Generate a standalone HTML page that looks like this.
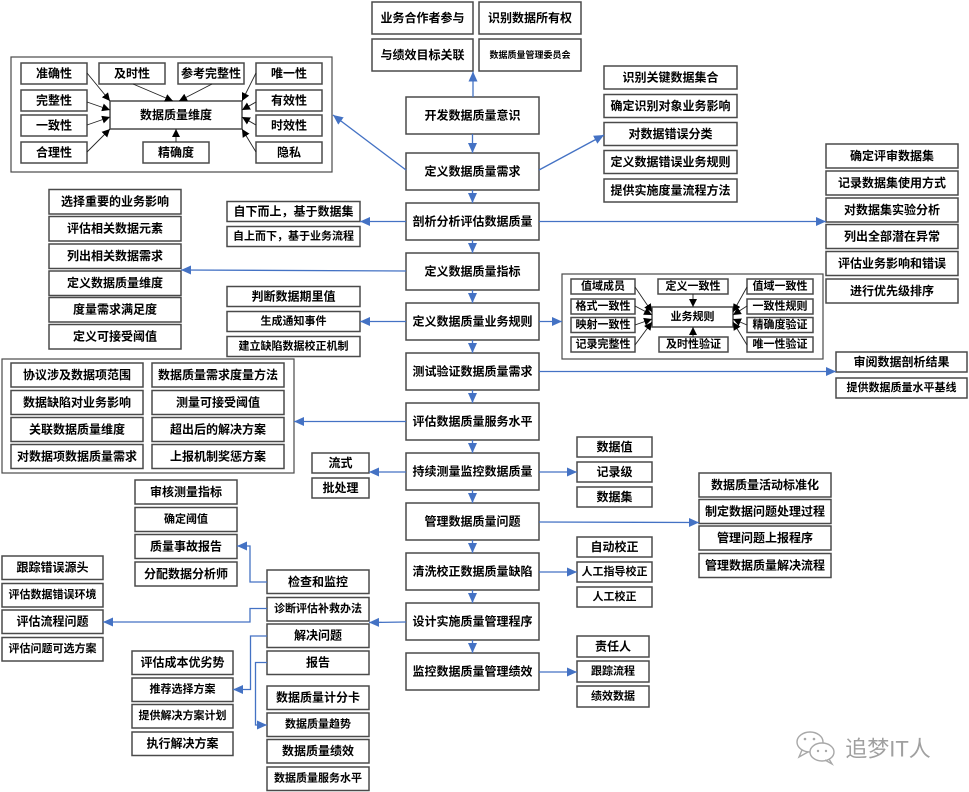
<!DOCTYPE html>
<html><head><meta charset="utf-8"><style>
html,body{margin:0;padding:0;background:#fff;}
svg{display:block;}
.b{fill:#fff;stroke:#4a4a4a;stroke-width:1.5;}
.c{fill:none;stroke:#4a4a4a;stroke-width:1.2;}
text{font-family:"Liberation Sans","Noto Sans CJK SC",sans-serif;font-weight:bold;fill:#000;text-anchor:middle;dominant-baseline:central;font-size:12px;}
.s11{font-size:11px;}
.s9{font-size:9px;}
.bl{fill:none;stroke:#4472C4;stroke-width:1.3;}
.k{fill:none;stroke:#222;stroke-width:0.9;}
</style></head><body>
<svg width="969" height="792" viewBox="0 0 969 792" xmlns="http://www.w3.org/2000/svg">
<defs>
<marker id="a" markerUnits="userSpaceOnUse" markerWidth="10" markerHeight="10" refX="10" refY="5" orient="auto"><path d="M0,0.5 L10,5 L0,9.5 z" fill="#4472C4"/></marker>
<marker id="k" markerUnits="userSpaceOnUse" markerWidth="8" markerHeight="8" refX="8" refY="4" orient="auto"><path d="M0,0 L8,4 L0,8 z" fill="#000"/></marker>
</defs>

<!-- top boxes -->
<rect class="b" x="372" y="2" width="101" height="32"/><text x="422.5" y="18">业务合作者参与</text>
<rect class="b" x="479" y="2" width="102" height="32"/><text x="530" y="18">识别数据所有权</text>
<rect class="b" x="372" y="39" width="101" height="32"/><text x="422.5" y="55">与绩效目标关联</text>
<rect class="b" x="479" y="39" width="102" height="32"/><text class="s9" x="530" y="55">数据质量管理委员会</text>

<!-- dimension container -->
<rect class="c" x="11" y="57" width="321" height="115"/>
<rect class="b" x="21" y="63" width="66" height="21"/><text x="54" y="73.5">准确性</text>
<rect class="b" x="21" y="90" width="66" height="21"/><text x="54" y="100.5">完整性</text>
<rect class="b" x="21" y="115" width="66" height="21"/><text x="54" y="125.5">一致性</text>
<rect class="b" x="21" y="142" width="66" height="21"/><text x="54" y="152.5">合理性</text>
<rect class="b" x="99" y="63" width="66" height="21"/><text x="132" y="73.5">及时性</text>
<rect class="b" x="178" y="63" width="66" height="21"/><text x="211" y="73.5">参考完整性</text>
<rect class="b" x="256" y="63" width="66" height="21"/><text x="289" y="73.5">唯一性</text>
<rect class="b" x="256" y="90" width="66" height="21"/><text x="289" y="100.5">有效性</text>
<rect class="b" x="256" y="115" width="66" height="21"/><text x="289" y="125.5">时效性</text>
<rect class="b" x="256" y="142" width="66" height="21"/><text x="289" y="152.5">隐私</text>
<rect class="b" x="110" y="101" width="132" height="28"/><text x="176" y="115">数据质量维度</text>
<rect class="b" x="143" y="142" width="66" height="21"/><text x="176" y="152.5">精确度</text>
<g marker-end="url(#k)">
<line class="k" x1="87" y1="73" x2="110" y2="101"/>
<line class="k" x1="87" y1="102" x2="110" y2="110"/>
<line class="k" x1="87" y1="125" x2="110" y2="117"/>
<line class="k" x1="87" y1="152" x2="110" y2="129"/>
<line class="k" x1="133" y1="84" x2="173" y2="101"/>
<line class="k" x1="212" y1="84" x2="179" y2="101"/>
<line class="k" x1="256" y1="73" x2="242" y2="101"/>
<line class="k" x1="256" y1="102" x2="242" y2="110"/>
<line class="k" x1="256" y1="125" x2="242" y2="117"/>
<line class="k" x1="256" y1="152" x2="242" y2="129"/>
<line class="k" x1="176" y1="142" x2="176" y2="129"/>
</g>

<!-- right list 1 -->
<rect class="b" x="604" y="66" width="133" height="23"/><text x="670.5" y="77.5">识别关键数据集合</text>
<rect class="b" x="604" y="94.5" width="133" height="23"/><text x="670.5" y="106">确定识别对象业务影响</text>
<rect class="b" x="604" y="122.5" width="133" height="23"/><text x="670.5" y="134">对数据错误分类</text>
<rect class="b" x="604" y="150.5" width="133" height="23"/><text x="670.5" y="162">定义数据错误业务规则</text>
<rect class="b" x="604" y="179" width="133" height="23"/><text x="670.5" y="190.5">提供实施度量流程方法</text>

<!-- right list 2 -->
<rect class="b" x="826" y="144" width="132" height="24"/><text x="892" y="156">确定评审数据集</text>
<rect class="b" x="826" y="171" width="132" height="24"/><text x="892" y="183">记录数据集使用方式</text>
<rect class="b" x="826" y="198" width="132" height="24"/><text x="892" y="210">对数据集实验分析</text>
<rect class="b" x="826" y="224.5" width="132" height="24"/><text x="892" y="236.5">列出全部潜在异常</text>
<rect class="b" x="826" y="251.5" width="132" height="24"/><text x="892" y="263.5">评估业务影响和错误</text>
<rect class="b" x="826" y="279" width="132" height="24"/><text x="892" y="291">进行优先级排序</text>

<!-- left list -->
<rect class="b" x="49" y="189.5" width="132" height="24.5"/><text x="115" y="201.7">选择重要的业务影响</text>
<rect class="b" x="49" y="216.5" width="132" height="24.5"/><text x="115" y="228.7">评估相关数据元素</text>
<rect class="b" x="49" y="244" width="132" height="24.5"/><text x="115" y="256.2">列出相关数据需求</text>
<rect class="b" x="49" y="271" width="132" height="24.5"/><text x="115" y="283.2">定义数据质量维度</text>
<rect class="b" x="49" y="297.5" width="132" height="24.5"/><text x="115" y="309.7">度量需求满足度</text>
<rect class="b" x="49" y="324.5" width="132" height="24.5"/><text x="115" y="336.7">定义可接受阈值</text>

<!-- mid-left -->
<rect class="b" x="227" y="201.5" width="133" height="20"/><text x="293.5" y="211.5">自下而上，基于数据集</text>
<rect class="b" x="227" y="226.5" width="133" height="20"/><text class="s11" x="293.5" y="236.5">自上而下，基于业务流程</text>
<rect class="b" x="227" y="286.5" width="133" height="20"/><text x="293.5" y="296.5">判断数据期里值</text>
<rect class="b" x="227" y="311.5" width="133" height="20"/><text class="s11" x="293.5" y="321.5">生成通知事件</text>
<rect class="b" x="227" y="336.5" width="133" height="20"/><text class="s11" x="293.5" y="346.5">建立缺陷数据校正机制</text>

<!-- business rules container -->
<rect class="c" x="562" y="274" width="261" height="85"/>
<rect class="b" x="571" y="279" width="64" height="15"/><text class="s11" x="603" y="286.5">值域成员</text>
<rect class="b" x="571" y="299" width="64" height="15"/><text class="s11" x="603" y="306.5">格式一致性</text>
<rect class="b" x="571" y="317.5" width="64" height="15"/><text class="s11" x="603" y="325">映射一致性</text>
<rect class="b" x="571" y="337" width="64" height="15"/><text class="s11" x="603" y="344.5">记录完整性</text>
<rect class="b" x="658" y="279" width="70" height="15"/><text class="s11" x="693" y="286.5">定义一致性</text>
<rect class="b" x="659" y="337" width="69" height="15"/><text class="s11" x="693.5" y="344.5">及时性验证</text>
<rect class="b" x="652" y="307" width="81" height="20"/><text class="s11" x="692.5" y="317">业务规则</text>
<rect class="b" x="747" y="279" width="66" height="15"/><text class="s11" x="780" y="286.5">值域一致性</text>
<rect class="b" x="747" y="299" width="66" height="15"/><text class="s11" x="780" y="306.5">一致性规则</text>
<rect class="b" x="747" y="317.5" width="66" height="15"/><text class="s11" x="780" y="325">精确度验证</text>
<rect class="b" x="747" y="337" width="66" height="15"/><text class="s11" x="780" y="344.5">唯一性验证</text>
<g marker-end="url(#k)">
<line class="k" x1="635" y1="287" x2="652" y2="312"/>
<line class="k" x1="635" y1="306" x2="652" y2="315"/>
<line class="k" x1="635" y1="325" x2="652" y2="319"/>
<line class="k" x1="635" y1="345" x2="652" y2="322"/>
<line class="k" x1="747" y1="287" x2="733" y2="312"/>
<line class="k" x1="747" y1="306" x2="733" y2="315"/>
<line class="k" x1="747" y1="325" x2="733" y2="319"/>
<line class="k" x1="747" y1="345" x2="733" y2="322"/>
<line class="k" x1="693" y1="294" x2="693" y2="307"/>
<line class="k" x1="693" y1="337" x2="693" y2="327"/>
</g>

<rect class="b" x="836" y="352" width="131" height="20"/><text x="901.5" y="362">审阅数据剖析结果</text>
<rect class="b" x="836" y="378" width="131" height="20"/><text class="s11" x="901.5" y="388">提供数据质量水平基线</text>

<!-- left container -->
<rect class="c" x="2" y="359" width="292" height="114"/>
<rect class="b" x="11" y="363" width="132" height="24"/><text x="77" y="375">协议涉及数据项范围</text>
<rect class="b" x="11" y="390.5" width="132" height="24"/><text x="77" y="402.5">数据缺陷对业务影响</text>
<rect class="b" x="11" y="417.5" width="132" height="24"/><text x="77" y="429.5">关联数据质量维度</text>
<rect class="b" x="11" y="444.5" width="132" height="24"/><text x="77" y="456.5">对数据项数据质量需求</text>
<rect class="b" x="152" y="363" width="132" height="24"/><text x="218" y="375">数据质量需求度量方法</text>
<rect class="b" x="152" y="390.5" width="132" height="24"/><text x="218" y="402.5">测量可接受阈值</text>
<rect class="b" x="152" y="417.5" width="132" height="24"/><text x="218" y="429.5">超出后的解决方案</text>
<rect class="b" x="152" y="444.5" width="132" height="24"/><text x="218" y="456.5">上报机制奖惩方案</text>

<rect class="b" x="312" y="453" width="57" height="20"/><text x="340.5" y="463">流式</text>
<rect class="b" x="312" y="478" width="57" height="20"/><text x="340.5" y="488">批处理</text>

<rect class="b" x="577" y="437" width="75" height="20"/><text x="614.5" y="447">数据值</text>
<rect class="b" x="577" y="462" width="75" height="20"/><text x="614.5" y="472">记录级</text>
<rect class="b" x="577" y="487" width="75" height="20"/><text x="614.5" y="497">数据集</text>

<rect class="b" x="699" y="473" width="132" height="24"/><text x="765" y="485">数据质量活动标准化</text>
<rect class="b" x="699" y="499.5" width="132" height="24"/><text x="765" y="511.5">制定数据问题处理过程</text>
<rect class="b" x="699" y="526" width="132" height="24"/><text x="765" y="538">管理问题上报程序</text>
<rect class="b" x="699" y="553.5" width="132" height="24"/><text x="765" y="565.5">管理数据质量解决流程</text>

<rect class="b" x="577" y="537" width="75" height="20"/><text x="614.5" y="547">自动校正</text>
<rect class="b" x="577" y="562" width="75" height="20"/><text class="s11" x="614.5" y="572">人工指导校正</text>
<rect class="b" x="577" y="587" width="75" height="20"/><text class="s11" x="614.5" y="597">人工校正</text>

<!-- lower left -->
<rect class="b" x="135" y="480" width="102" height="24"/><text x="186" y="492">审核测量指标</text>
<rect class="b" x="135" y="507.5" width="102" height="24"/><text class="s11" x="186" y="519.5">确定阈值</text>
<rect class="b" x="135" y="534.5" width="102" height="24"/><text x="186" y="546.5">质量事故报告</text>
<rect class="b" x="135" y="562" width="102" height="24"/><text x="186" y="574">分配数据分析师</text>

<rect class="b" x="267" y="570" width="102" height="23.5"/><text x="318" y="582">检查和监控</text>
<rect class="b" x="267" y="597.5" width="102" height="23.5"/><text class="s11" x="318" y="609.2">诊断评估补救办法</text>
<rect class="b" x="267" y="624" width="102" height="23.5"/><text x="318" y="635.7">解决问题</text>
<rect class="b" x="267" y="651" width="102" height="23.5"/><text x="318" y="662.7">报告</text>

<rect class="b" x="2" y="556" width="101" height="23.5"/><text x="52.5" y="567.7">跟踪错误源头</text>
<rect class="b" x="2" y="583.5" width="101" height="23.5"/><text class="s11" x="52.5" y="595.2">评估数据错误环境</text>
<rect class="b" x="2" y="610" width="101" height="23.5"/><text x="52.5" y="621.7">评估流程问题</text>
<rect class="b" x="2" y="637.5" width="101" height="23.5"/><text class="s11" x="52.5" y="649.2">评估问题可选方案</text>

<rect class="b" x="132" y="651" width="101" height="23.5"/><text x="182.5" y="662.7">评估成本优劣势</text>
<rect class="b" x="132" y="678" width="101" height="23.5"/><text class="s11" x="182.5" y="689.7">推荐选择方案</text>
<rect class="b" x="132" y="704.5" width="101" height="23.5"/><text class="s11" x="182.5" y="716.2">提供解决方案计划</text>
<rect class="b" x="132" y="732" width="101" height="23.5"/><text x="182.5" y="743.7">执行解决方案</text>

<rect class="b" x="267" y="686" width="102" height="23.5"/><text x="318" y="697.7">数据质量计分卡</text>
<rect class="b" x="267" y="713" width="102" height="23.5"/><text class="s11" x="318" y="724.7">数据质量趋势</text>
<rect class="b" x="267" y="739.5" width="102" height="23.5"/><text x="318" y="751.2">数据质量绩效</text>
<rect class="b" x="267" y="767" width="102" height="23.5"/><text class="s11" x="318" y="778.7">数据质量服务水平</text>

<rect class="b" x="577" y="636" width="72" height="21"/><text x="613" y="646.5">责任人</text>
<rect class="b" x="577" y="661" width="72" height="21"/><text class="s11" x="613" y="671.5">跟踪流程</text>
<rect class="b" x="577" y="686" width="72" height="21"/><text class="s11" x="613" y="696.5">绩效数据</text>

<!-- main column -->
<rect class="b" x="406" y="97" width="133" height="37"/><text x="472.5" y="115.5">开发数据质量意识</text>
<rect class="b" x="406" y="153" width="133" height="37"/><text x="472.5" y="171.5">定义数据质量需求</text>
<rect class="b" x="406" y="203" width="133" height="37"/><text x="472.5" y="221.5">剖析分析评估数据质量</text>
<rect class="b" x="406" y="253" width="133" height="37"/><text x="472.5" y="271.5">定义数据质量指标</text>
<rect class="b" x="406" y="303" width="133" height="37"/><text x="472.5" y="321.5">定义数据质量业务规则</text>
<rect class="b" x="406" y="353" width="133" height="37"/><text x="472.5" y="371.5">测试验证数据质量需求</text>
<rect class="b" x="406" y="403" width="133" height="37"/><text x="472.5" y="421.5">评估数据质量服务水平</text>
<rect class="b" x="406" y="453" width="133" height="37"/><text x="472.5" y="471.5">持续测量监控数据质量</text>
<rect class="b" x="406" y="503" width="133" height="37"/><text x="472.5" y="521.5">管理数据质量问题</text>
<rect class="b" x="406" y="553" width="133" height="37"/><text x="472.5" y="571.5">清洗校正数据质量缺陷</text>
<rect class="b" x="406" y="603" width="133" height="37"/><text x="472.5" y="621.5">设计实施质量管理程序</text>
<rect class="b" x="406" y="653" width="133" height="37"/><text x="472.5" y="671.5">监控数据质量管理绩效</text>

<!-- blue connectors -->
<g marker-end="url(#a)">
<line class="bl" x1="473" y1="97" x2="473" y2="71.5"/>
<line class="bl" x1="472.5" y1="134" x2="472.5" y2="153"/>
<line class="bl" x1="472.5" y1="190" x2="472.5" y2="203"/>
<line class="bl" x1="472.5" y1="240" x2="472.5" y2="253"/>
<line class="bl" x1="472.5" y1="290" x2="472.5" y2="303"/>
<line class="bl" x1="472.5" y1="340" x2="472.5" y2="353"/>
<line class="bl" x1="472.5" y1="390" x2="472.5" y2="403"/>
<line class="bl" x1="472.5" y1="440" x2="472.5" y2="453"/>
<line class="bl" x1="472.5" y1="490" x2="472.5" y2="503"/>
<line class="bl" x1="472.5" y1="540" x2="472.5" y2="553"/>
<line class="bl" x1="472.5" y1="590" x2="472.5" y2="603"/>
<line class="bl" x1="472.5" y1="640" x2="472.5" y2="653"/>

<line class="bl" x1="406" y1="170" x2="333" y2="115"/>
<line class="bl" x1="539" y1="170" x2="604" y2="135"/>
<line class="bl" x1="406" y1="221.5" x2="360" y2="221.5"/>
<line class="bl" x1="539" y1="221.5" x2="826" y2="221.5"/>
<line class="bl" x1="406" y1="271" x2="181" y2="270"/>
<line class="bl" x1="406" y1="321.5" x2="360" y2="321.5"/>
<line class="bl" x1="539" y1="321.5" x2="562" y2="321.5"/>
<line class="bl" x1="539" y1="371.5" x2="836" y2="371.5"/>
<line class="bl" x1="406" y1="421.5" x2="294" y2="421.5"/>
<line class="bl" x1="406" y1="472" x2="369" y2="472"/>
<line class="bl" x1="539" y1="472" x2="577" y2="472"/>
<line class="bl" x1="539" y1="522" x2="699" y2="522.5"/>
<line class="bl" x1="539" y1="572" x2="577" y2="572"/>
<line class="bl" x1="406" y1="622" x2="369" y2="622.5"/>
<line class="bl" x1="539" y1="672" x2="577" y2="672"/>

<polyline class="bl" points="267,582 250,582 250,546 237,546"/>
<polyline class="bl" points="267,608.5 250,608.5 250,622 103,622"/>
<polyline class="bl" points="267,636 250.5,636 250.5,689.5 233,689.5"/>
<polyline class="bl" points="267,662.5 255.5,662.5 255.5,725 267,725"/>
</g>

<!-- watermark -->
<g fill="none" stroke="#a8a8a8" stroke-width="1.4">
<ellipse cx="810" cy="742" rx="13" ry="10"/>
<path d="M802,750 L799,757 L808,752"/>
<ellipse cx="822" cy="752" rx="12" ry="9" fill="#fff"/>
<path d="M829,759 L832,764 L825,760"/>
</g>
<g fill="#a8a8a8"><circle cx="805" cy="739" r="1.3"/><circle cx="814" cy="739" r="1.3"/><circle cx="818" cy="751" r="1.2"/><circle cx="826" cy="751" r="1.2"/></g>
<text x="888" y="749" style="font-size:22px;font-weight:normal;fill:#a0a0a0;">追梦IT人</text>
</svg>
</body></html>
